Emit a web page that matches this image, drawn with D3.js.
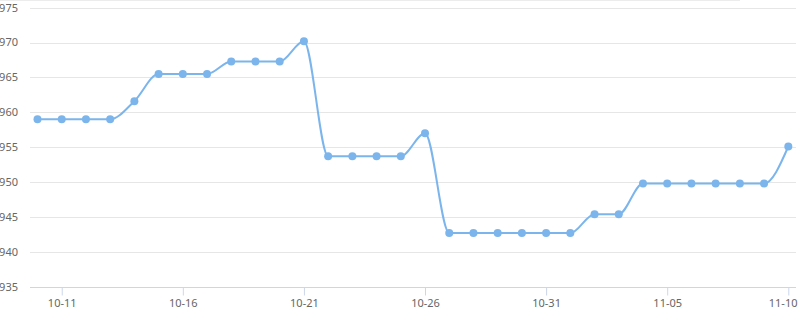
<!DOCTYPE html>
<html>
<head>
<meta charset="utf-8">
<script src="https://cdn.jsdelivr.net/npm/d3@7"></script>
<style>
  body { margin: 0; background: #fff; }
  text { font-family: "Noto Sans", "Open Sans", sans-serif; font-size: 11px; fill: #666; }
</style>
</head>
<body>
<div id="chart"></div>
<script>
// daily values, 10-10 .. 11-10
const startDate = "2019-10-10";
const prices = [
  959, 959, 959, 959, 961.6, 965.5, 965.5, 965.5,
  967.3, 967.3, 967.3, 970.2, 953.7, 953.7, 953.7, 953.7,
  957.0, 942.7, 942.7, 942.7, 942.7, 942.7, 942.7, 945.4,
  945.4, 949.8, 949.8, 949.8, 949.8, 949.8, 949.8, 955.1
];
const yTicks = [935, 940, 945, 950, 955, 960, 965, 970, 975];
const xTickLabels = ["10-11", "10-16", "10-21", "10-26", "10-31", "11-05", "11-10"];

const width = 800, height = 309;
const plotLeft = 30, plotRight = 796;

const parse = d3.utcParse("%Y-%m-%d");
const t0 = parse(startDate);
const data = prices.map((v, i) => ({ date: d3.utcDay.offset(t0, i), value: v }));

const x = d3.scaleUtc()
  .domain([data[0].date, data[data.length - 1].date])
  .range([37.5, 788.3]);
const y = d3.scaleLinear().domain([935, 975]).range([286.7, 7.7]);

const fmt = d3.utcFormat("%m-%d");
const tickDates = data.map(d => d.date).filter(d => xTickLabels.includes(fmt(d)));

const svg = d3.select("#chart").append("svg")
  .attr("width", width)
  .attr("height", height);

// faint top border
svg.append("line")
  .attr("x1", 0).attr("x2", 740)
  .attr("y1", 0.5).attr("y2", 0.5)
  .attr("stroke", "#ececec");

// grid lines
svg.append("g")
  .selectAll("line")
  .data(yTicks.filter(t => t !== 935))
  .join("line")
  .attr("x1", plotLeft).attr("x2", plotRight)
  .attr("y1", d => Math.round(y(d)) + 0.5)
  .attr("y2", d => Math.round(y(d)) + 0.5)
  .attr("stroke", "#e6e6e6");

// y labels
svg.append("g")
  .selectAll("text")
  .data(yTicks)
  .join("text")
  .attr("x", 18)
  .attr("y", d => y(d))
  .attr("dy", "0.35em")
  .attr("text-anchor", "end")
  .text(d => d);

// x axis
const xAxis = d3.axisBottom(x)
  .tickValues(tickDates)
  .tickFormat(fmt)
  .tickSize(8)
  .tickSizeOuter(0);

const gx = svg.append("g")
  .attr("transform", `translate(0,${Math.round(y(935)) + 0.5})`)
  .call(xAxis);
gx.select(".domain").remove();
gx.insert("line", ":first-child")
  .attr("x1", plotLeft).attr("x2", plotRight)
  .attr("stroke", "#ccd6eb");
gx.selectAll(".tick line").attr("stroke", "#ccd6eb");
gx.selectAll(".tick text")
  .attr("y", 12)
  .attr("dy", "0.71em")
  .style("font-family", null)
  .style("font-size", null);
gx.attr("font-family", null).attr("font-size", null);

// keep the last label inside the frame
gx.selectAll(".tick text").each(function() {
  const b = this.getBBox();
  const tx = x(tickDates[tickDates.length - 1]);
  if (this.textContent === xTickLabels[xTickLabels.length - 1] && tx + b.x + b.width > 797) {
    d3.select(this).attr("x", 797 - tx - b.width / 2);
  }
});

// line
const line = d3.line()
  .x(d => x(d.date))
  .y(d => y(d.value))
  .curve(d3.curveMonotoneX);

svg.append("path")
  .datum(data)
  .attr("d", line)
  .attr("fill", "none")
  .attr("stroke", "#7cb5ec")
  .attr("stroke-width", 2);

svg.append("g")
  .selectAll("circle")
  .data(data)
  .join("circle")
  .attr("cx", d => x(d.date))
  .attr("cy", d => y(d.value))
  .attr("r", 4)
  .attr("fill", "#7cb5ec");
</script>
</body>
</html>
